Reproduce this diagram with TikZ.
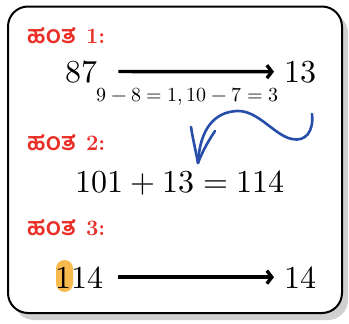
\documentclass[tikz,border=0pt]{standalone}
\usepackage{unicode-math}
\newfontfamily\kannada[Script=Kannada,Scale=1.12]{Hind Mysuru}
\usepackage{tikz}
\usetikzlibrary{arrows.meta,calc,backgrounds}
\definecolor{stepred}{RGB}{232,48,40}
\definecolor{penblue}{RGB}{38,78,170}
\definecolor{markorange}{RGB}{247,186,77}
\definecolor{shadowgray}{RGB}{208,208,208}

\begin{document}
\begin{tikzpicture}[x=1pt,y=-1pt,
  steplabel/.style={anchor=base west,inner sep=0pt,text=stepred,
                    font=\fontsize{22}{26}\selectfont\bfseries},
  num/.style={anchor=base west,inner sep=0pt,font=\fontsize{32}{38}\selectfont},
  note/.style={anchor=base,inner sep=0pt,font=\fontsize{20}{24}\selectfont},
  bigarrow/.style={line width=3.4pt,-{Straight Barb[length=5pt,width=13pt]}},
  pen/.style={penblue,line width=2.6pt,line cap=round,line join=round}
]
  \useasboundingbox (0,0) rectangle (349,324);

  \node[steplabel] (step1) at (27,44) {{\kannada ಹಂತ}\hspace{10pt}1:};
  \node[num] (a87) at (65.5,82) {$87$};
  \node[num] (a13) at (284,82) {$13$};
  \node[note] (diff) at (187.5,102) {$9-8=1,10-7=3$};

  \node[steplabel] (step2) at (27,150) {{\kannada ಹಂತ}\hspace{10pt}2:};
  \node[num] (sum) at (75,193) {$101+13=114$};

  \node[steplabel] (step3) at (27,235) {{\kannada ಹಂತ}\hspace{10pt}3:};
  \node[num] (n114) at (55.5,288) {$114$};
  \node[num] (n14) at (284,288) {$14$};

  \draw[bigarrow] ([xshift=20pt]a87.east) -- ([xshift=-10pt]a13.west);
  \draw[bigarrow] ([xshift=14.5pt]n114.east) -- ([xshift=-10pt]n14.west);

  \begin{scope}[on background layer]
    % card with shadow
    \fill[shadowgray,rounded corners=20pt] (14,13) rectangle (348,320);
    \draw[line width=2pt,fill=white,rounded corners=20pt] (8,6.5) rectangle (342,313);
    \fill[markorange,rounded corners=8.5pt]
      ($(n114.base west)+(0.5,-28)$) rectangle ++(17,32);
  \end{scope}

  % hand drawn carry arrow
  \coordinate (penstart) at (312,114);
  \coordinate (pentip) at (198,163);
  \draw[pen] (penstart) .. controls (314,132) and (305,142) .. (292,139)
    .. controls (275,136) and (258,110) .. (237,111)
    .. controls (215,112) and (200,128) .. (pentip);
  \draw[pen] (191,127) .. controls (193,140) and (196,152) .. (pentip)
    .. controls (203,150) and (209,140) .. (215,131);
\end{tikzpicture}
\end{document}
